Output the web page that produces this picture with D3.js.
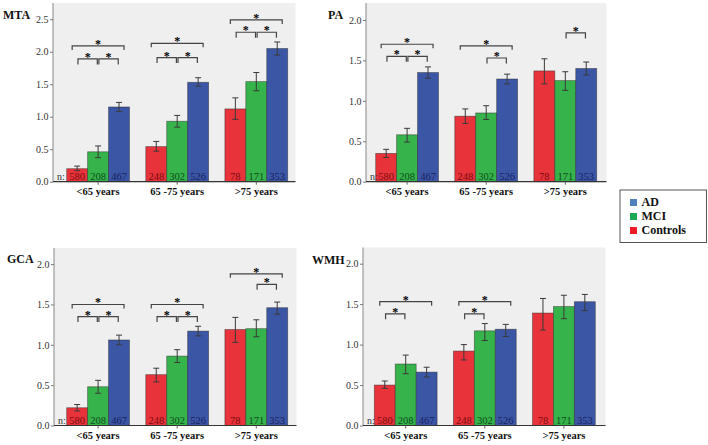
<!DOCTYPE html>
<html>
<head>
<meta charset="utf-8">
<script src="https://cdn.jsdelivr.net/npm/d3@7"></script>
<style>
  body { margin: 0; background: #fff; }
  svg { display: block; font-family: "Liberation Serif", "Times New Roman", serif; }
</style>
</head>
<body>
<div class="chart"></div>
<script>
// categories
const groups = ["<65 years", "65 -75 years", ">75 years"];
const series = ["Controls", "MCI", "AD"];
const counts = [[580, 208, 467], [248, 302, 526], [78, 171, 353]];

// MTA
const mtaMean = [[0.20, 0.46, 1.15], [0.54, 0.93, 1.53], [1.12, 1.54, 2.05]];
const mtaLow = [[0.17, 0.37, 1.08], [0.47, 0.84, 1.47], [0.96, 1.40, 1.95]];
const mtaHigh = [[0.24, 0.55, 1.22], [0.62, 1.02, 1.60], [1.29, 1.68, 2.15]];
// [group, from, to, level]
const mtaSig = [[0, 0, 2, 2.09], [0, 0, 1, 1.89], [0, 1, 2, 1.89],
                [1, 0, 2, 2.13], [1, 0, 1, 1.91], [1, 1, 2, 1.91],
                [2, 0, 2, 2.49], [2, 0, 1, 2.30], [2, 1, 2, 2.30]];

// PA
const paMean = [[0.35, 0.58, 1.35], [0.81, 0.85, 1.27], [1.37, 1.25, 1.40]];
const paLow = [[0.30, 0.49, 1.28], [0.72, 0.77, 1.21], [1.21, 1.13, 1.32]];
const paHigh = [[0.40, 0.66, 1.42], [0.90, 0.94, 1.33], [1.52, 1.36, 1.48]];
const paSig = [[0, 0, 2, 1.70], [0, 0, 1, 1.55], [0, 1, 2, 1.55],
               [1, 0, 2, 1.68], [1, 1, 2, 1.53], [2, 1, 2, 1.84]];

// GCA
const gcaMean = [[0.22, 0.48, 1.06], [0.63, 0.86, 1.17], [1.19, 1.20, 1.46]];
const gcaLow = [[0.18, 0.40, 1.00], [0.54, 0.78, 1.11], [1.03, 1.10, 1.38]];
const gcaHigh = [[0.26, 0.56, 1.12], [0.71, 0.94, 1.23], [1.34, 1.31, 1.53]];
const gcaSig = [[0, 0, 2, 1.50], [0, 0, 1, 1.35], [0, 1, 2, 1.35],
                [1, 0, 2, 1.50], [1, 0, 1, 1.35], [1, 1, 2, 1.35],
                [2, 0, 2, 1.88], [2, 1, 2, 1.75]];

// WMH
const wmhMean = [[0.50, 0.76, 0.66], [0.92, 1.17, 1.19], [1.39, 1.47, 1.53]];
const wmhLow = [[0.46, 0.64, 0.60], [0.81, 1.05, 1.10], [1.18, 1.32, 1.42]];
const wmhHigh = [[0.55, 0.87, 0.72], [1.00, 1.26, 1.25], [1.57, 1.61, 1.62]];
const wmhSig = [[0, 0, 2, 1.53], [0, 0, 1, 1.38], [1, 0, 2, 1.53], [1, 0, 1, 1.38]];

const yTicksMTA = [0, 0.5, 1.0, 1.5, 2.0, 2.5];
const yTicks = [0, 0.5, 1.0, 1.5, 2.0];

// colors
const barColor = d3.scaleOrdinal(series, ["#e8333a", "#36b34a", "#3c56a6"]);
const textColor = d3.scaleOrdinal(series, ["#7a0c10", "#0d4d1c", "#17225e"]);
const legendColor = d3.scaleOrdinal(series, ["#ee1c24", "#1aaa55", "#4f81bd"]);
const serif = "Liberation Serif";

// panels layout
const panels = [
  { name: "MTA", mean: mtaMean, low: mtaLow, high: mtaHigh, sig: mtaSig, ticks: yTicksMTA,
    left: 53, right: 295.5, top: 3, bottom: 181.7, max: 2.75, pad: 13.7, lx: 3, ly: 19 },
  { name: "PA", mean: paMean, low: paLow, high: paHigh, sig: paSig, ticks: yTicks,
    left: 366, right: 606.5, top: 3, bottom: 181.7, max: 2.21, pad: 9.7, lx: 328, ly: 19 },
  { name: "GCA", mean: gcaMean, low: gcaLow, high: gcaHigh, sig: gcaSig, ticks: yTicks,
    left: 54, right: 296.5, top: 248, bottom: 425.5, max: 2.2, pad: 12.7, lx: 7, ly: 263 },
  { name: "WMH", mean: wmhMean, low: wmhLow, high: wmhHigh, sig: wmhSig, ticks: yTicks,
    left: 363, right: 605.5, top: 247.5, bottom: 425.5, max: 2.2, pad: 11.3, lx: 312, ly: 264 }
];

const width = 708, height = 445;
const svg = d3.select(".chart").append("svg").attr("width", width).attr("height", height);

panels.forEach((p) => {
  const g = svg.append("g").attr("font-family", serif);
  const y = d3.scaleLinear().domain([0, p.max]).range([p.bottom, p.top]);
  const x = d3.scaleBand().domain(groups)
    .range([p.left + p.pad, p.left + p.pad + 221]).paddingInner(0.206).paddingOuter(0);
  const xs = d3.scaleBand().domain(series).range([0, x.bandwidth()]);
  const cx = (gi, si) => x(groups[gi]) + xs(series[si]) + xs.bandwidth() / 2;

  // background
  g.append("rect").attr("x", p.left).attr("y", p.top)
    .attr("width", p.right - p.left).attr("height", p.bottom - p.top).attr("fill", "#efefef");

  // bars
  const cells = [];
  groups.forEach((gr, gi) => series.forEach((s, si) => cells.push({ gi, si, gr, s,
    v: p.mean[gi][si], lo: p.low[gi][si], hi: p.high[gi][si], n: counts[gi][si] })));

  g.selectAll("rect.bar").data(cells).enter().append("rect").attr("class", "bar")
    .attr("x", (d) => x(d.gr) + xs(d.s))
    .attr("y", (d) => y(d.v))
    .attr("width", xs.bandwidth())
    .attr("height", (d) => y(0) - y(d.v))
    .attr("fill", (d) => barColor(d.s))
    .attr("stroke", "#2a2a2a").attr("stroke-opacity", 0.55).attr("stroke-width", 0.8);

  // error bars
  const eb = g.selectAll("g.err").data(cells).enter().append("g").attr("class", "err")
    .attr("stroke", "#3a3a3a").attr("stroke-width", 1);
  eb.append("line").attr("x1", (d) => cx(d.gi, d.si)).attr("x2", (d) => cx(d.gi, d.si))
    .attr("y1", (d) => y(d.lo)).attr("y2", (d) => y(d.hi));
  eb.append("line").attr("x1", (d) => cx(d.gi, d.si) - 3).attr("x2", (d) => cx(d.gi, d.si) + 3)
    .attr("y1", (d) => y(d.hi)).attr("y2", (d) => y(d.hi));
  eb.append("line").attr("x1", (d) => cx(d.gi, d.si) - 3).attr("x2", (d) => cx(d.gi, d.si) + 3)
    .attr("y1", (d) => y(d.lo)).attr("y2", (d) => y(d.lo));

  // counts
  g.selectAll("text.n").data(cells).enter().append("text").attr("class", "n")
    .attr("x", (d) => cx(d.gi, d.si)).attr("y", p.bottom - 2)
    .attr("text-anchor", "middle").attr("font-size", 10.5)
    .attr("fill", (d) => textColor(d.s)).text((d) => d.n);
  g.append("text").attr("x", p.left + 4).attr("y", p.bottom - 2)
    .attr("font-size", 10).attr("fill", "#333").text("n:");

  // significance brackets
  const br = g.selectAll("g.sig").data(p.sig).enter().append("g").attr("class", "sig");
  br.each(function ([gi, from, to, level]) {
    const wide = to - from === 2;
    const x1 = wide ? cx(gi, from) - 5 : cx(gi, from) + 0.8;
    const x2 = wide ? cx(gi, to) + 5 : cx(gi, to) - 0.8;
    const yy = y(level);
    const tick = wide ? 4 : 5.5;
    d3.select(this).append("path")
      .attr("d", `M${x1},${yy + tick}V${yy}H${x2}V${yy + tick}`)
      .attr("fill", "none").attr("stroke", "#444").attr("stroke-width", 1.2);
    d3.select(this).append("text").attr("x", (x1 + x2) / 2).attr("y", yy + 2)
      .attr("text-anchor", "middle").attr("font-size", 12).attr("font-weight", "bold")
      .attr("fill", "#000").text("*");
  });

  // y axis
  const yAxis = g.append("g").attr("transform", `translate(${p.left},0)`)
    .call(d3.axisLeft(y).tickValues(p.ticks).tickFormat(d3.format(".1f")).tickSize(3).tickPadding(1.5));
  yAxis.attr("font-family", serif);
  yAxis.select(".domain").attr("stroke", "#888").attr("d", `M0,${p.top}V${p.bottom}`);
  yAxis.selectAll(".tick line").attr("stroke", "#777");
  yAxis.selectAll(".tick text").attr("font-size", 10).attr("fill", "#333");

  // x axis
  const xAxis = g.append("g").attr("transform", `translate(0,${p.bottom})`)
    .call(d3.axisBottom(x).tickSize(3).tickPadding(3));
  xAxis.attr("font-family", serif);
  xAxis.select(".domain").attr("stroke", "#333").attr("stroke-width", 1.2)
    .attr("d", `M${p.left},0H${p.right}`);
  xAxis.selectAll(".tick line").attr("stroke", "#666");
  xAxis.selectAll(".tick text").attr("font-size", 10.5).attr("font-weight", "bold").attr("fill", "#111");

  // panel label
  g.append("text").attr("x", p.lx).attr("y", p.ly).attr("font-size", 12)
    .attr("font-weight", "bold").attr("fill", "#111").text(p.name);
});

// legend
const legend = svg.append("g").attr("font-family", serif);
legend.append("rect").attr("x", 620).attr("y", 190).attr("width", 86.5).attr("height", 52.5)
  .attr("fill", "#fff").attr("stroke", "#555").attr("stroke-width", 1);
const legendItems = series.slice().reverse();
const ly = d3.scalePoint().domain(legendItems).range([206, 234]);
legendItems.forEach((s) => {
  legend.append("rect").attr("x", 630).attr("y", ly(s) - 7).attr("width", 7).attr("height", 7)
    .attr("fill", legendColor(s));
  legend.append("text").attr("x", 641.5).attr("y", ly(s)).attr("font-size", 12)
    .attr("font-weight", "bold").attr("fill", "#111").text(s);
});
</script>
</body>
</html>
